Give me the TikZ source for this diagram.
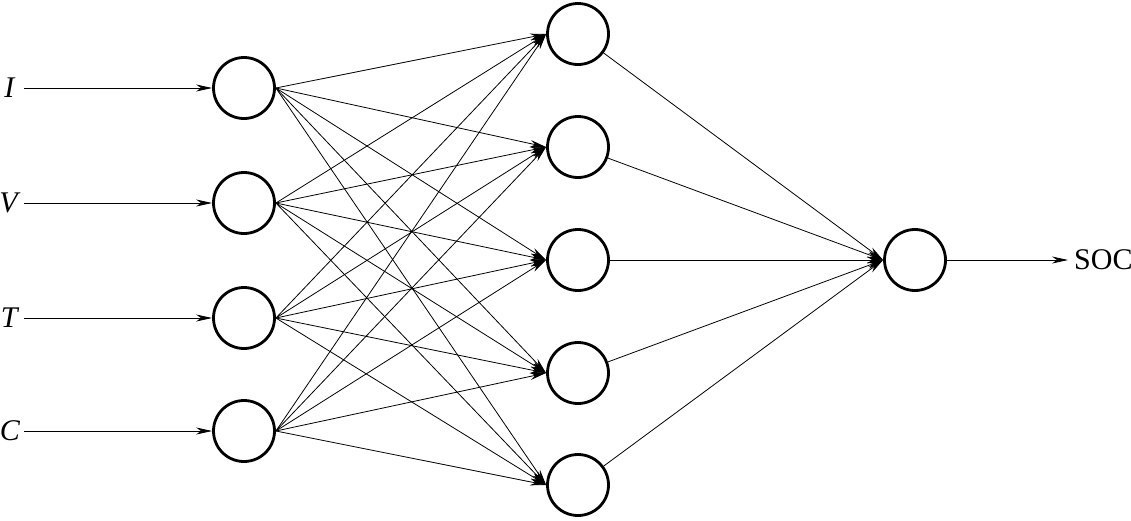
\documentclass[tikz,border=0pt]{standalone}
\usepackage{fontspec}
\setmainfont{Liberation Serif}
\usetikzlibrary{arrows.meta}
\begin{document}
\begin{tikzpicture}[x=1pt,y=-1pt,
  neuron/.style={circle,draw,line width=2.8pt,minimum size=61pt,inner sep=0pt},
  conn/.style={line width=0.8pt,-{Stealth[length=16pt,width=7pt,inset=5pt]}},
  lab/.style={inner sep=0pt,font=\fontsize{30}{35}\selectfont}]
\useasboundingbox (0,0) rectangle (1131,520);
% input layer
\node[neuron] (i1) at (244,88) {};
\node[neuron] (i2) at (244,203) {};
\node[neuron] (i3) at (244,318) {};
\node[neuron] (i4) at (244,431) {};
% hidden layer
\node[neuron] (h1) at (578,34) {};
\node[neuron] (h2) at (578,147) {};
\node[neuron] (h3) at (578,260) {};
\node[neuron] (h4) at (578,373) {};
\node[neuron] (h5) at (578,485) {};
% output
\node[neuron] (o) at (915,260) {};
% labels
\node[lab] (lI) at (10,88) {\textit{I}};
\node[lab] (lV) at (10,203) {\textit{V}};
\node[lab] (lT) at (10,318) {\textit{T}};
\node[lab] (lC) at (10,431) {\textit{C}};
\node[lab,anchor=west] (lS) at (1074,260) {SOC};
\coordinate (s1) at (24,88);
\coordinate (s2) at (24,203);
\coordinate (s3) at (24,318);
\coordinate (s4) at (24,431);
\coordinate (e) at (1068,260);
\foreach \k in {1,2,3,4}{\draw[conn] (s\k) -- (i\k.west);}
\foreach \a in {1,2,3,4}{
  \foreach \b in {1,2,3,4,5}{
    \draw[conn] (i\a.east) -- (h\b.west);
  }
}
\foreach \b in {1,2,3,4,5}{\draw[conn] (h\b) -- (o.west);}
\draw[conn] (o.east) -- (e);
\end{tikzpicture}
\end{document}
